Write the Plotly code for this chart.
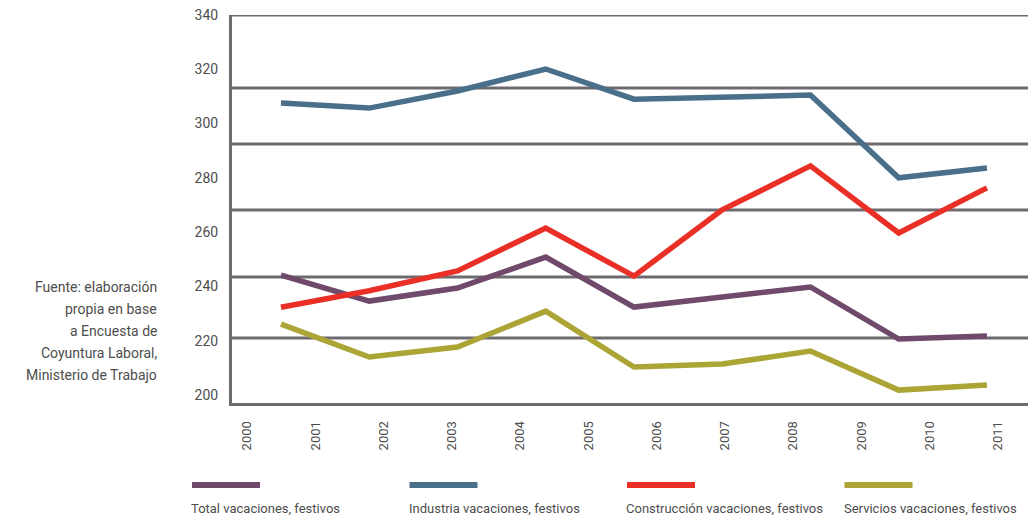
import plotly.graph_objects as go

# -------------------------------------------------
# Data
# -------------------------------------------------
years = [2000, 2001, 2002, 2003, 2004, 2005, 2006, 2007, 2008, 2009, 2010, 2011]
periodos = [1, 2, 3, 4, 5, 6, 7, 8, 9]

total = [244.2, 234.6, 239.4, 250.8, 232.4, 236.1, 239.8, 220.6, 221.7]
industria = [307.6, 305.7, 312.0, 320.1, 309.0, 309.8, 310.5, 280.0, 283.6]
construccion = [232.3, 238.4, 245.7, 261.5, 243.8, 268.2, 284.4, 259.7, 276.3]
servicios = [226.1, 214.0, 217.7, 230.9, 210.3, 211.4, 216.2, 201.8, 203.7]

series_names = [
    "Total vacaciones, festivos",
    "Industria vacaciones, festivos",
    "Construcción vacaciones, festivos",
    "Servicios vacaciones, festivos",
]
series_values = [total, industria, construccion, servicios]
series_colors = ["#6f4a6a", "#4a6f8b", "#ea2f27", "#aaa535"]

y_ticks = [200, 220, 240, 260, 280, 300, 320, 340]
grid_levels = [340, 313.1, 292.5, 268.2, 243.5, 221.0]

fuente_lines = [
    "Fuente: elaboración",
    "propia en base",
    "a Encuesta de",
    "Coyuntura Laboral,",
    "Ministerio de Trabajo",
]

AXIS_COLOR = "#6e6b70"
TEXT_COLOR = "#4d4d4d"
PLOT_W, PLOT_H = 796, 388

fig = go.Figure()

# ---- Series lines (data periods on their own hidden axis) ----
for name, vals, color in zip(series_names, series_values, series_colors):
    fig.add_trace(
        go.Scatter(
            x=periodos,
            y=vals,
            mode="lines",
            name=name,
            line=dict(color=color, width=5.5),
            showlegend=False,
        )
    )

# ---- Empty trace so the year axis gets drawn ----
fig.add_trace(
    go.Scatter(
        x=years,
        y=[None] * len(years),
        xaxis="x2",
        mode="lines",
        showlegend=False,
        hoverinfo="skip",
    )
)

# ---- Horizontal rules ----
for lvl in grid_levels:
    fig.add_shape(
        type="line", xref="paper", yref="y",
        x0=0, x1=1, y0=lvl, y1=lvl,
        line=dict(color=AXIS_COLOR, width=3),
        layer="below",
    )

# ---- Custom legend under the chart ----
for i, (name, color) in enumerate(zip(series_names, series_colors)):
    x0 = (192 - 232 + i * 217.5) / PLOT_W
    fig.add_shape(
        type="line", xref="paper", yref="paper",
        x0=x0, x1=x0 + 68 / PLOT_W, y0=-82 / PLOT_H, y1=-82 / PLOT_H,
        line=dict(color=color, width=6),
    )
    fig.add_annotation(
        xref="paper", yref="paper",
        x=x0 - 3 / PLOT_W, y=-105 / PLOT_H,
        text=name, showarrow=False,
        xanchor="left", yanchor="middle",
        font=dict(family="Roboto", size=13, color=TEXT_COLOR),
    )

# ---- Source note ----
for i, line in enumerate(fuente_lines):
    fig.add_annotation(
        xref="paper", yref="paper",
        x=-73 / PLOT_W, y=(403 - 287 - 22 * i) / PLOT_H,
        text=line, showarrow=False,
        xanchor="right", yanchor="middle",
        font=dict(family="Roboto", size=14, color=TEXT_COLOR),
    )

# ---- Layout ----
fig.update_layout(
    width=1033,
    height=519,
    margin=dict(l=232, r=5, t=15, b=116),
    paper_bgcolor="white",
    plot_bgcolor="white",
    font=dict(family="Roboto, Open Sans", color=TEXT_COLOR),
    xaxis=dict(
        range=[-0.555 + 1, 8.465 + 1],
        visible=False,
    ),
    xaxis2=dict(
        overlaying="x",
        anchor="y",
        side="bottom",
        range=[1999.78, 2011.44],
        tickmode="array",
        tickvals=years,
        ticktext=[str(y) for y in years],
        tickangle=-90,
        tickfont=dict(size=13, color=TEXT_COLOR),
        ticklabelstandoff=10,
        showgrid=False,
        zeroline=False,
        showline=True,
        linecolor=AXIS_COLOR,
        linewidth=3,
    ),
    yaxis=dict(
        range=[197.05, 340],
        tickmode="array",
        tickvals=y_ticks,
        tickfont=dict(size=14, color=TEXT_COLOR),
        ticklabelstandoff=8,
        showgrid=False,
        zeroline=False,
        showline=True,
        linecolor=AXIS_COLOR,
        linewidth=3,
    ),
)

fig.write_html(
    "out.html",
    config={"displayModeBar": False},
    post_script="document.body.style.margin='0';",
)
